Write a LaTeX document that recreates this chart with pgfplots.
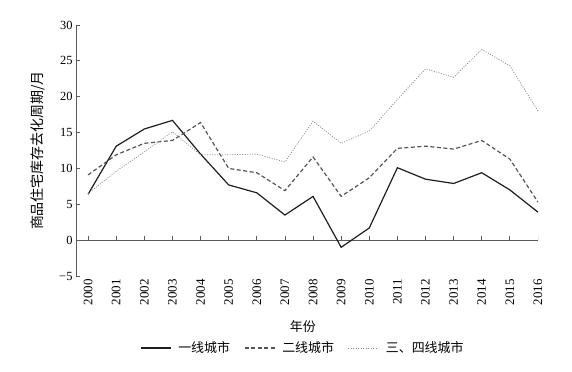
\documentclass[border=0pt]{standalone}
\usepackage{pgfplots}
\pgfplotsset{compat=1.18}
\usepackage{fontspec}
\setmainfont{Liberation Serif}
\newfontfamily\cjk{Noto Sans CJK SC}
\definecolor{c1}{HTML}{1E1E1E}
\definecolor{c2}{HTML}{555555}
\definecolor{c3}{HTML}{8C8C8C}
\definecolor{ax}{HTML}{5A5A5A}
\begin{document}
\begin{tikzpicture}
\begin{axis}[name=A,
  scale only axis, width=462bp, height=251bp,
  xmin=1999.57, xmax=2016, ymin=-5, ymax=30,
  axis x line=middle, axis y line=left,
  axis line style={-, ax, line width=0.8bp},
  tick style={ax, line width=0.8bp},
  tick align=inside, major tick length=4bp,
  xtick={2000,...,2016}, xticklabels={}, xtick style={draw=none},
  ytick={-5,0,5,10,15,20,25,30},
  yticklabels={−5,0,5,10,15,20,25,30},
  yticklabel style={font=\fontsize{12.5}{13}\selectfont},
  ylabel={\cjk 商品住宅库存去化周期/月},
  ylabel style={at={(axis description cs:-0.082,0.5)}, anchor=center, font=\fontsize{14}{15}\selectfont},
  xlabel={\cjk 年份},
  xlabel style={at={(axis description cs:0.491,-0.203)}, anchor=center, font=\fontsize{13}{14}\selectfont},
  legend columns=3,
  legend style={at={(axis description cs:0.491,-0.287)}, anchor=center, draw=none, fill=none,
    font=\fontsize{13}{14}\selectfont\cjk,
    /tikz/every odd column/.append style={column sep=5bp},
    /tikz/every even column/.append style={column sep=12bp}},
  legend image code/.code={\draw[#1] (0bp,0bp) -- (30bp,0bp);},
]
\addplot[ycomb, ax, line width=0.8bp, forget plot] coordinates {
(2000,0.6) (2001,0.6) (2002,0.6) (2003,0.6) (2004,0.6) (2005,0.6) (2006,0.6) (2007,0.6) (2008,0.6)
(2009,0.6) (2010,0.6) (2011,0.6) (2012,0.6) (2013,0.6) (2014,0.6) (2015,0.6) (2016,0.6)};
\addplot[c1, line width=1.2bp] coordinates {
(2000,6.4) (2001,13.1) (2002,15.5) (2003,16.7) (2004,12.0) (2005,7.7) (2006,6.6) (2007,3.5) (2008,6.1)
(2009,-1.0) (2010,1.7) (2011,10.1) (2012,8.5) (2013,7.9) (2014,9.4) (2015,7.0) (2016,3.9)};
\addlegendentry{一线城市}
\addplot[c2, line width=1.2bp, dash pattern=on 4bp off 2.5bp] coordinates {
(2000,9.1) (2001,11.9) (2002,13.5) (2003,13.9) (2004,16.4) (2005,10.0) (2006,9.4) (2007,6.9) (2008,11.6)
(2009,6.1) (2010,8.7) (2011,12.8) (2012,13.1) (2013,12.7) (2014,13.9) (2015,11.3) (2016,5.3)};
\addlegendentry{二线城市}
\addplot[c3, line width=0.8bp, dash pattern=on 1bp off 1.5bp] coordinates {
(2000,6.5) (2001,9.6) (2002,12.3) (2003,15.1) (2004,11.9) (2005,11.9) (2006,12.0) (2007,10.9) (2008,16.6)
(2009,13.5) (2010,15.2) (2011,19.6) (2012,23.9) (2013,22.7) (2014,26.6) (2015,24.3) (2016,18.0)};
\addlegendentry{三、四线城市}
\end{axis}
\begin{axis}[
  scale only axis, width=462bp, height=251bp,
  xmin=1999.57, xmax=2016, ymin=-5, ymax=30,
  hide y axis, axis x line*=bottom,
  x axis line style={draw=none}, xtick style={draw=none},
  xtick={2000,...,2016},
  xticklabel style={rotate=90, anchor=east, font=\fontsize{13}{14}\selectfont},
  /pgf/number format/assume math mode=true,
  /pgf/number format/1000 sep={},
]
\end{axis}
\path ([shift={(-76bp,-96bp)}]A.south west) rectangle ([shift={(34bp,25bp)}]A.north east);
\end{tikzpicture}
\end{document}
